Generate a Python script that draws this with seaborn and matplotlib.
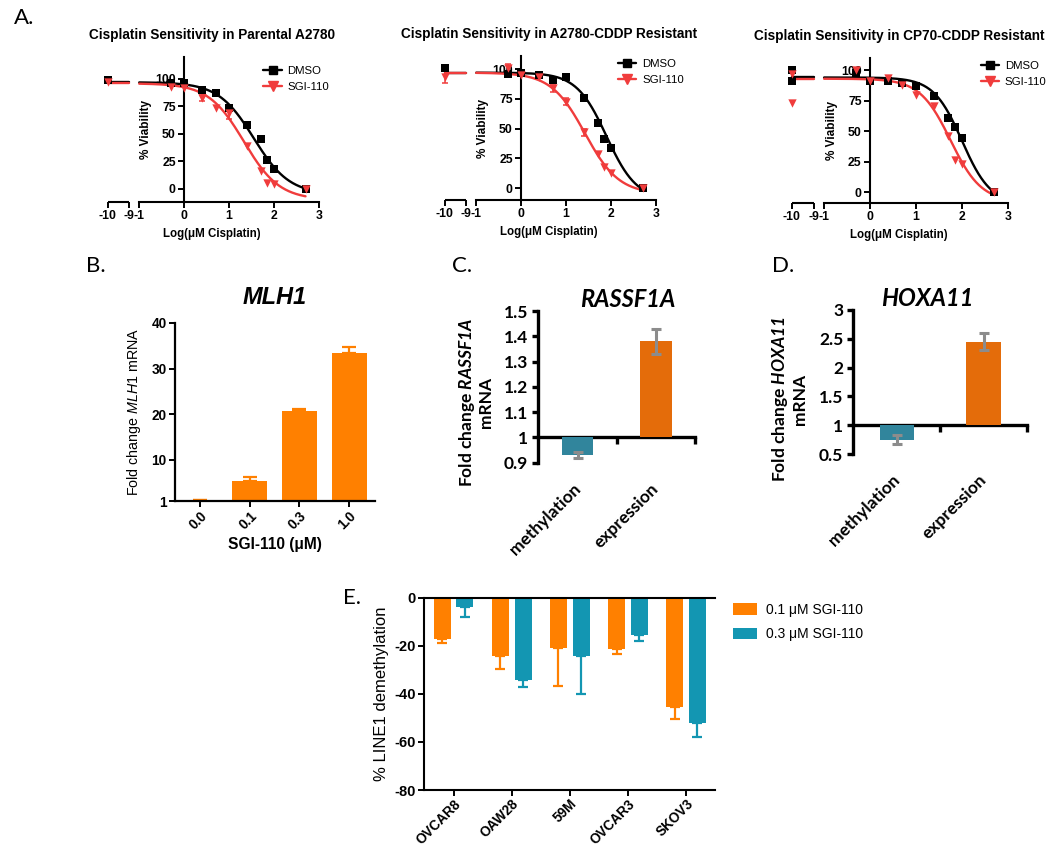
import numpy as np
import pandas as pd
import matplotlib
matplotlib.use("Agg")
import matplotlib.pyplot as plt
import seaborn as sns
from matplotlib.lines import Line2D
from matplotlib.patches import Patch

# ---------------------------------------------------------------- data
# Panel A : log10(uM cisplatin); -10 is the vehicle control
a_titles = ["Cisplatin Sensitivity in Parental A2780",
            "Cisplatin Sensitivity in A2780-CDDP Resistant",
            "Cisplatin Sensitivity in CP70-CDDP Resistant"]
a_xticks = [-10, -9, -1, 0, 1, 2, 3]
a_xticklabels = ["-10", "-9", "-1", "0", "1", "2", "3"]
a_yticks = [0, 25, 50, 75, 100]
a_series = ["DMSO", "SGI-110"]

p1_x = [-10, -0.3, 0, 0.4, 0.7, 1, 1.4, 1.7, 1.85, 2, 2.7]
p1_dmso = [99, 96, 96, 90, 87.6, 74, 58.5, 45.5, 26, 18, 0]
p1_dmso_err = [0, 0, 0, 0, 0, 0, 0, 0, 0, 0, 0]
p1_sgi = [97, 92.4, 92, 83, 74, 69, 39, 16, 5, 4.5, 0]
p1_sgi_err = [0, 0, 0, 3, 0, 5, 0, 0, 0, 0, 0]
p1_fit_dmso = [97, -5, 1.55, 1.1]     # top, bottom, logIC50, hill
p1_fit_sgi = [96, -10, 1.33, 1.1]

p2_x = [-10, -0.3, 0, 0.4, 0.7, 1, 1.4, 1.7, 1.85, 2, 2.7]
p2_dmso = [101, 96, 97, 95, 91, 93.5, 76, 55, 41.6, 33.7, 0]
p2_dmso_err = [0, 0, 0, 0, 0, 0, 0, 0, 0, 0, 0]
p2_sgi = [93.5, 101, 95, 93.5, 83.7, 72.5, 47, 29, 18, 12.6, 0]
p2_sgi_err = [5.5, 3, 0, 0, 3, 3, 3, 0, 0, 0, 0]
p2_fit_dmso = [97, -10, 1.9, 1.3]
p2_fit_sgi = [97, -5, 1.42, 1.15]

p3_x = [-10, -10, -0.3, 0, 0.4, 0.7, 1, 1.4, 1.7, 1.85, 2, 2.7]
p3_dmso = [100, 91, 97.8, 91, 91.5, 89.6, 86.8, 78.6, 61, 53.4, 44.4, 0]
p3_dmso_err = [0, 0, 0, 0, 0, 0, 0, 0, 0, 0, 0, 0]
p3_sgi = [97, 73, 100.5, 91, 93.5, 88, 80, 70.4, 46, 26.6, 22.7, 0]
p3_sgi_err = [0, 0, 0, 0, 0, 0, 0, 0, 0, 0, 0, 0]
p3_fit_dmso = [94, -10, 2.0, 1.4]
p3_fit_sgi = [93, -8, 1.75, 1.3]

# Panel B : MLH1
b_conc = ["0.0", "0.1", "0.3", "1.0"]
b_fold = [1.2, 5.3, 20.8, 33.5]
b_err = [0, 0.85, 0.3, 1.35]
b_yticks = [1, 10, 20, 30, 40]

# Panels C / D
cd_cats = ["methylation", "expression"]
c_fold = [0.93, 1.38]
c_err = [0.012, 0.05]
c_yticks = [0.9, 1.0, 1.1, 1.2, 1.3, 1.4, 1.5]
c_yticklabels = ["0.9", "1", "1.1", "1.2", "1.3", "1.4", "1.5"]
d_fold = [0.75, 2.45]
d_err = [0.08, 0.15]
d_yticks = [0.5, 1, 1.5, 2, 2.5, 3]
d_yticklabels = ["0.5", "1", "1.5", "2", "2.5", "3"]

# Panel E : LINE1 demethylation
e_lines = ["OVCAR8", "OAW28", "59M", "OVCAR3", "SKOV3"]
e_doses = ["0.1 μM SGI-110", "0.3 μM SGI-110"]
e_low = [-17.3, -24.1, -21.1, -21.4, -45.5]
e_low_err = [1.7, 5.7, 15.6, 2.2, 4.8]
e_high = [-3.7, -34.2, -24.1, -15.4, -52.0]
e_high_err = [4.5, 2.8, 16.1, 2.6, 6.1]
e_yticks = [0, -20, -40, -60, -80]

# ---------------------------------------------------------------- style
ORANGE = "#FF8000"
TEAL = "#1396B2"
C_TEAL = "#31859C"
C_ORANGE = "#E46C0A"
GREY = "#8C8C8C"
RED = "#F03C3C"

sns.set_theme(style="white")
plt.rcParams.update({
    "font.family": ["Liberation Sans", "DejaVu Sans"],
    "axes.unicode_minus": False,
    "mathtext.fontset": "custom",
    "mathtext.rm": "Liberation Sans",
    "mathtext.it": "Liberation Sans:italic",
    "mathtext.bf": "Lato:bold:italic",
    "axes.edgecolor": "black",
    "axes.labelcolor": "black",
    "text.color": "black",
    "xtick.color": "black",
    "ytick.color": "black",
})

W, H = 1050, 847
fig = plt.figure(figsize=(W / 100, H / 100), dpi=100)


def rect(left, top, right, bottom):
    return [left / W, 1 - bottom / H, (right - left) / W, (bottom - top) / H]


# broken x axis for panel A (-10..-9 | gap | -1..3)
G, S = 0.23, 0.47


def fwd(x):
    x = np.asarray(x, float)
    return np.where(x >= -1, x,
                    np.where(x <= -9, -1 - G - (-9 - x) * S, -1 - G * (-1 - x) / 8))


def inv(p):
    p = np.asarray(p, float)
    return np.where(p >= -1, p,
                    np.where(p <= -1 - G, -9 - (-1 - G - p) / S, -1 - 8 * (-1 - p) / G))


def logistic(x, top, bottom, logic50, hill):
    return bottom + (top - bottom) / (1 + 10 ** ((x - logic50) * hill))


def panel_a(r, title, xs, dmso, dmso_err, sgi, sgi_err, fit_d, fit_s, ylim, leg_xy):
    ax = fig.add_axes(r)
    ax.set_xscale("function", functions=(fwd, inv))
    for fit, col in ((fit_d, "black"), (fit_s, RED)):
        for seg in (np.linspace(-10, -9, 20), np.linspace(-1, 2.7, 300)):
            sns.lineplot(x=seg, y=logistic(seg, *fit), color=col, lw=1.7,
                         ax=ax, errorbar=None, sort=False, legend=False)
    sns.scatterplot(x=xs, y=dmso, marker="s", color="black", s=28, linewidth=0,
                    ax=ax, zorder=4, legend=False)
    sns.scatterplot(x=xs, y=sgi, marker="v", color=RED, s=36, linewidth=0,
                    ax=ax, zorder=5, legend=False)
    for ys, es, col in ((dmso, dmso_err, "black"), (sgi, sgi_err, RED)):
        xe = [x for x, e in zip(xs, es) if e > 0]
        ye = [y for y, e in zip(ys, es) if e > 0]
        ee = [e for e in es if e > 0]
        if ee:
            ax.errorbar(xe, ye, yerr=ee, fmt="none", ecolor=col, elinewidth=1.1,
                        capsize=2.2, capthick=1.1, zorder=3)
    ax.set_xlim(-10.32, 3.1)
    ax.set_ylim(*ylim)
    ax.set_xticks(a_xticks)
    ax.set_xticklabels(a_xticklabels)
    ax.set_yticks(a_yticks)
    ax.set_yticklabels([str(v) for v in a_yticks])
    for sp in ("top", "right"):
        ax.spines[sp].set_visible(False)
    ax.spines["left"].set_position(("data", 0))
    ax.spines["bottom"].set_bounds(-1, 3)
    for sp in ("left", "bottom"):
        ax.spines[sp].set_linewidth(1.5)
    ax.plot([-10, -9], [0, 0], transform=ax.get_xaxis_transform(), color="black",
            lw=1.5, clip_on=False, solid_capstyle="butt")
    ax.tick_params(axis="both", direction="out", length=4, width=1.4,
                   labelsize=8.8, pad=2, bottom=True, left=True)
    for lab in ax.get_xticklabels() + ax.get_yticklabels():
        lab.set_fontweight("bold")
    ax.set_ylabel("% Viability", fontsize=8.5, fontweight="bold", labelpad=2)
    ax.set_xlabel("Log(μM Cisplatin)", fontsize=8.3, fontweight="bold", labelpad=4)
    ax.set_title(title, fontsize=9.8, fontweight="bold", pad=13)
    handles = [Line2D([0], [0], color="black", lw=1.7, marker="s", markersize=5.5),
               Line2D([0], [0], color=RED, lw=1.7, marker="v", markersize=6.5)]
    ax.legend(handles, a_series, loc="upper left", bbox_to_anchor=leg_xy,
              frameon=False, fontsize=8.2, handlelength=1.6, handletextpad=0.5,
              labelspacing=0.55, borderaxespad=0, borderpad=0)
    ax.grid(False)
    return ax


panel_a(rect(101, 57, 323.5, 202), a_titles[0], p1_x, p1_dmso, p1_dmso_err,
        p1_sgi, p1_sgi_err, p1_fit_dmso, p1_fit_sgi, (-12, 120), (0.73, 0.94))
panel_a(rect(438, 56, 660.5, 200), a_titles[1], p2_x, p2_dmso, p2_dmso_err,
        p2_sgi, p2_sgi_err, p2_fit_dmso, p2_fit_sgi, (-10, 111), (0.81, 0.98))
panel_a(rect(785, 58, 1012.6, 203), a_titles[2], p3_x, p3_dmso, p3_dmso_err,
        p3_sgi, p3_sgi_err, p3_fit_dmso, p3_fit_sgi, (-9, 110), (0.86, 0.98))

# ---------------------------------------------------------------- panel B
axb = fig.add_axes(rect(175, 323, 375, 501))
sns.barplot(x=b_conc, y=b_fold, color=ORANGE, width=0.7, errorbar=None,
            saturation=1, linewidth=0, ax=axb)
bx = [p.get_x() + p.get_width() / 2 for p in axb.patches]
axb.errorbar(bx, b_fold, yerr=[np.zeros(len(b_err)), b_err], fmt="none",
             ecolor=ORANGE, elinewidth=1.6, capsize=5, capthick=1.6)
axb.set_xlim(-0.5, 3.52)
axb.set_ylim(1, 40)
axb.set_yticks(b_yticks)
for sp in ("top", "right"):
    axb.spines[sp].set_visible(False)
for sp in ("left", "bottom"):
    axb.spines[sp].set_linewidth(1.6)
axb.tick_params(axis="both", direction="out", length=4, width=1.4, labelsize=9.8,
                bottom=True, left=True, pad=2)
axb.set_xticks(range(len(b_conc)))
axb.set_xticklabels(b_conc, rotation=45, ha="right", rotation_mode="anchor",
                    fontweight="bold")
for lab in axb.get_yticklabels():
    lab.set_fontweight("bold")
axb.set_xlabel("SGI-110 (μM)", fontsize=11.2, fontweight="bold", labelpad=3)
axb.set_ylabel(r"Fold change $\mathit{MLH1}$ mRNA", fontsize=10.3, labelpad=6)
axb.set_title("MLH1", fontsize=17, fontweight="bold", fontstyle="italic", pad=14)


# ---------------------------------------------------------------- panels C, D
def panel_cd(r, fold, err, yticks, yticklabels, ylim, gene, title_dx, label_xy):
    ax = fig.add_axes(r)
    vals = np.asarray(fold) - 1.0
    sns.barplot(x=cd_cats, y=vals, hue=cd_cats, palette=[C_TEAL, C_ORANGE],
                width=0.4, errorbar=None, saturation=1, legend=False, bottom=1,
                linewidth=0, ax=ax)
    cx = [p.get_x() + p.get_width() / 2 for p in ax.patches]
    ax.errorbar(cx, fold, yerr=err, fmt="none", ecolor=GREY, elinewidth=2.2,
                capsize=3.5, capthick=2.2, zorder=5)
    ax.set_xlim(-0.51, 1.5)
    ax.set_ylim(*ylim)
    ax.set_yticks(yticks)
    ax.set_yticklabels(yticklabels, fontfamily="Lato", fontweight="bold", fontsize=12.5)
    for sp in ("top", "right", "bottom"):
        ax.spines[sp].set_visible(False)
    ax.spines["left"].set_linewidth(2.4)
    ax.tick_params(axis="y", direction="out", length=4, width=2.4, pad=3, left=True)
    ax.tick_params(axis="x", length=0, pad=17)
    ax.set_xticks([0, 1])
    ax.set_xticklabels(cd_cats, rotation=45, ha="right", va="center",
                       rotation_mode="anchor", fontfamily="Lato",
                       fontweight="bold", fontsize=12.5)
    loc = (1 - ylim[0]) / (ylim[1] - ylim[0])
    sec = ax.secondary_xaxis(loc)
    sec.set_xticks([0.5, 1.5])
    sec.set_xticklabels(["", ""])
    sec.tick_params(axis="x", direction="out", length=5, width=2.4)
    for sp in sec.spines.values():
        sp.set_linewidth(2.4)
    ax.set_ylabel("Fold change $\\mathbf{" + gene + "}$\nmRNA", fontfamily="Lato",
                  fontweight="bold", fontsize=12.5, linespacing=1.1)
    ax.yaxis.set_label_coords(label_xy[0], label_xy[1])
    ax.set_title(gene, fontfamily="Lato", fontweight="bold", fontstyle="italic",
                 fontsize=17, pad=3, x=0.5 + title_dx)
    ax.grid(False)
    return ax


panel_cd(rect(538, 311, 695, 462.7), c_fold, c_err, c_yticks, c_yticklabels,
         (0.9, 1.5), "RASSF1A", 0.07, (-0.28, 0.40))
panel_cd(rect(853, 310, 1027, 454), d_fold, d_err, d_yticks, d_yticklabels,
         (0.5, 3), "HOXA11", -0.07, (-0.26, 0.38))

# ---------------------------------------------------------------- panel E
dfe = pd.DataFrame({
    "line": e_lines * 2,
    "dose": [e_doses[0]] * len(e_lines) + [e_doses[1]] * len(e_lines),
    "value": e_low + e_high,
})
axe = fig.add_axes(rect(424, 597.7, 715, 790))
sns.barplot(data=dfe, x="line", y="value", hue="dose", hue_order=e_doses,
            palette=[ORANGE, TEAL], width=0.78, gap=0.25, errorbar=None,
            saturation=1, legend=False, linewidth=0, ax=axe)
ex = [p.get_x() + p.get_width() / 2 for p in axe.patches]
ey = [p.get_height() for p in axe.patches]
eerr = e_low_err + e_high_err
ecol = [ORANGE] * len(e_lines) + [TEAL] * len(e_lines)
for x, y, e, c in zip(ex, ey, eerr, ecol):
    axe.errorbar([x], [y], yerr=[[e], [0]], fmt="none", ecolor=c, elinewidth=1.6,
                 capsize=3.5, capthick=1.6)
axe.set_xlim(-0.51, 4.5)
axe.set_ylim(-80, 0)
axe.set_yticks(e_yticks)
axe.set_yticklabels([str(v) for v in e_yticks], fontweight="bold", fontsize=10.5)
axe.set_xticks(range(len(e_lines)))
axe.set_xticklabels(e_lines, rotation=45, ha="right", rotation_mode="anchor",
                    fontweight="bold", fontsize=9.8)
axe.spines["right"].set_visible(False)
for sp in ("left", "bottom", "top"):
    axe.spines[sp].set_linewidth(1.5)
axe.tick_params(axis="both", direction="out", length=4, width=1.4, pad=2,
                bottom=True, left=True)
axe.tick_params(axis="x", pad=1)
axe.set_xlabel("")
axe.set_ylabel("% LINE1 demethylation", fontsize=12, labelpad=4)
axe.grid(False)
leg_handles = [Patch(facecolor=ORANGE, edgecolor="none"),
               Patch(facecolor=TEAL, edgecolor="none")]
fig.legend(leg_handles, e_doses, loc="upper left",
           bbox_to_anchor=(733 / W, 1 - 603 / H), frameon=False, fontsize=10,
           handlelength=1.75, handleheight=0.9, handletextpad=0.6,
           labelspacing=0.75, borderpad=0, borderaxespad=0)

# ---------------------------------------------------------------- panel letters
for txt, x, y in (("A.", 14, 18), ("B.", 86, 266), ("C.", 452, 266),
                  ("D.", 772, 266), ("E.", 343, 598)):
    fig.text(x / W, 1 - y / H, txt, fontsize=16, fontfamily="Lato",
             ha="left", va="center")

fig.savefig("out.png", dpi=100)
